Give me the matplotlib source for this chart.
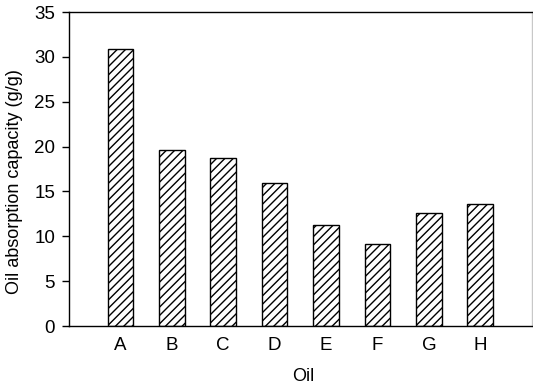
import matplotlib
matplotlib.use("Agg")
import matplotlib.pyplot as plt

plt.rcParams['font.family'] = ['Liberation Sans', 'DejaVu Sans']
plt.rcParams['hatch.linewidth'] = 1.0

oils = ['A', 'B', 'C', 'D', 'E', 'F', 'G', 'H']
capacity = [30.9, 19.6, 18.7, 15.9, 11.3, 9.1, 12.6, 13.6]
yticks = [0, 5, 10, 15, 20, 25, 30, 35]

fig = plt.figure(figsize=(5.33, 3.9), dpi=100)
ax = fig.add_axes([0.1295, 0.164, 0.868, 0.805])

positions = list(range(1, len(oils) + 1))
ax.bar(positions, capacity, width=0.5, color='white', edgecolor='black',
       linewidth=1.0, hatch='////', zorder=2)

ax.set_xlim(0, 9)
ax.set_ylim(0, 35)
ax.set_xticks(positions)
ax.set_xticklabels(oils)
ax.set_yticks(yticks)
ax.tick_params(axis='x', length=0, pad=8, labelsize=13.5)
ax.tick_params(axis='y', direction='out', length=5, width=1, pad=5, labelsize=13.5)

for side in ['left', 'bottom', 'top']:
    ax.spines[side].set_color('black')
    ax.spines[side].set_linewidth(1.0)
ax.spines['right'].set_color('#c8c8c8')
ax.spines['right'].set_linewidth(1.0)

ax.set_xlabel('Oil', fontsize=13)
ax.xaxis.set_label_coords(0.506, -0.134)
ax.set_ylabel('Oil absorption capacity (g/g)', fontsize=13)
ax.yaxis.set_label_coords(-0.10, 0.459)

fig.savefig('out.png', dpi=100)
